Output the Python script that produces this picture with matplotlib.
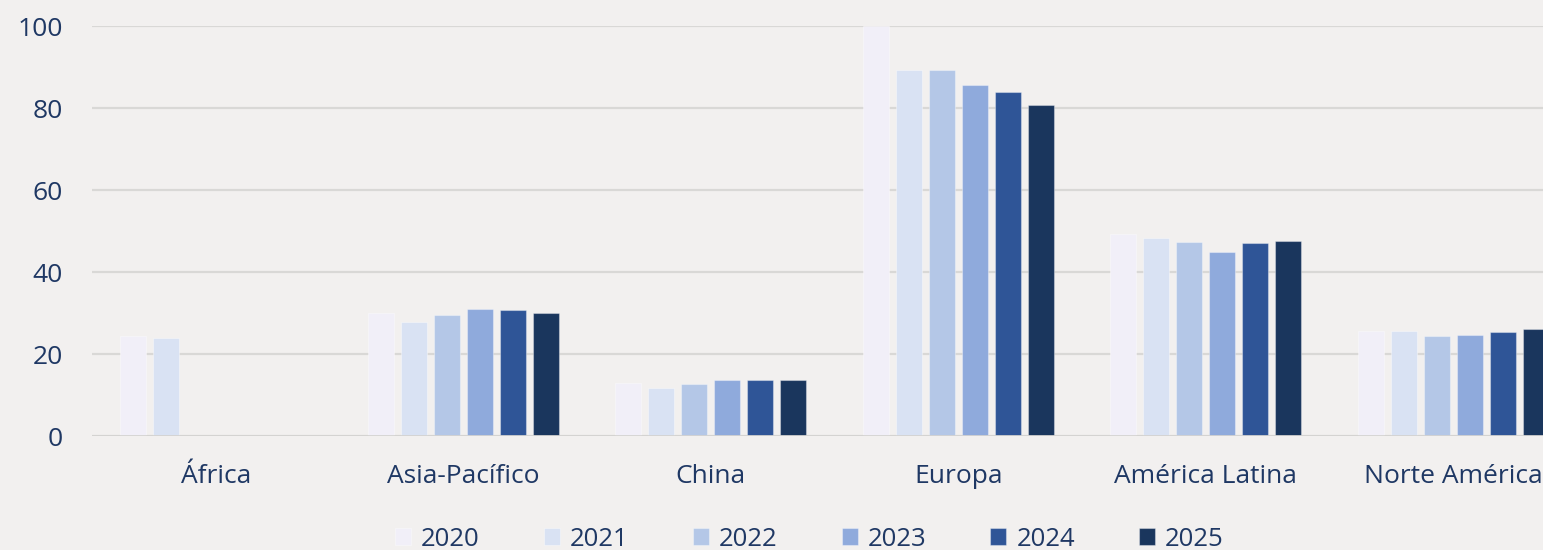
import matplotlib.pyplot as plt
import numpy as np

plt.rcParams['font.family'] = ['Open Sans', 'DejaVu Sans']

regions = ["África", "Asia-Pacífico", "China", "Europa", "América Latina", "Norte América"]
years = ["2020", "2021", "2022", "2023", "2024", "2025"]

# values per year, one per region (NaN = no bar)
v2020 = [24.4, 29.9, 12.9, 100.0, 49.3, 25.6]
v2021 = [23.9, 27.9, 11.7, 89.3, 48.4, 25.7]
v2022 = [np.nan, 29.5, 12.7, 89.3, 47.3, 24.4]
v2023 = [np.nan, 31.0, 13.7, 85.6, 44.9, 24.6]
v2024 = [np.nan, 30.7, 13.7, 83.8, 47.0, 25.4]
v2025 = [np.nan, 30.0, 13.7, 80.8, 47.6, 26.1]
series = [v2020, v2021, v2022, v2023, v2024, v2025]

colors = ['#f1eff8', '#d9e2f3', '#b4c7e7', '#8faadc', '#2f5597', '#1a365d']
bg = '#f2f0ef'
txt = '#1f3864'

fig = plt.figure(figsize=(15.43, 5.5), dpi=100, facecolor=bg)
ax = fig.add_axes([92/1543, 1 - 436/550, 1485/1543, 410/550])
ax.set_facecolor(bg)

x = np.arange(len(regions))
slot = 0.1333
w = 0.105
for i, (vals, c, yr) in enumerate(zip(series, colors, years)):
    ax.bar(x + (i - 2.5) * slot, vals, width=w, color=c, label=yr,
           edgecolor=(1, 1, 1, 0.35), linewidth=0.8, zorder=3)

ax.set_xlim(-0.5, 5.5)
ax.set_ylim(0, 100)
ax.set_yticks([0, 20, 40, 60, 80, 100])
ax.yaxis.grid(True, color='#d9d8d6', linewidth=1.6, zorder=0)
ax.axhline(0, color='#d4d3d1', linewidth=2, zorder=4)
for s in ax.spines.values():
    s.set_visible(False)

ax.set_xticks(x)
ax.set_xticklabels(regions)
ax.tick_params(axis='y', length=0, pad=21, labelsize=19, labelcolor=txt)
ax.tick_params(axis='x', length=0, pad=20, labelsize=19, labelcolor=txt)

fig.legend(loc='center', bbox_to_anchor=(0.5246, 0.02), ncol=6, frameon=False,
           fontsize=18.5, labelcolor=txt, handlelength=0.62, handleheight=0.62,
           handletextpad=0.39, columnspacing=2.5, borderpad=0)

fig.savefig('out.png', dpi=100, facecolor=bg)
